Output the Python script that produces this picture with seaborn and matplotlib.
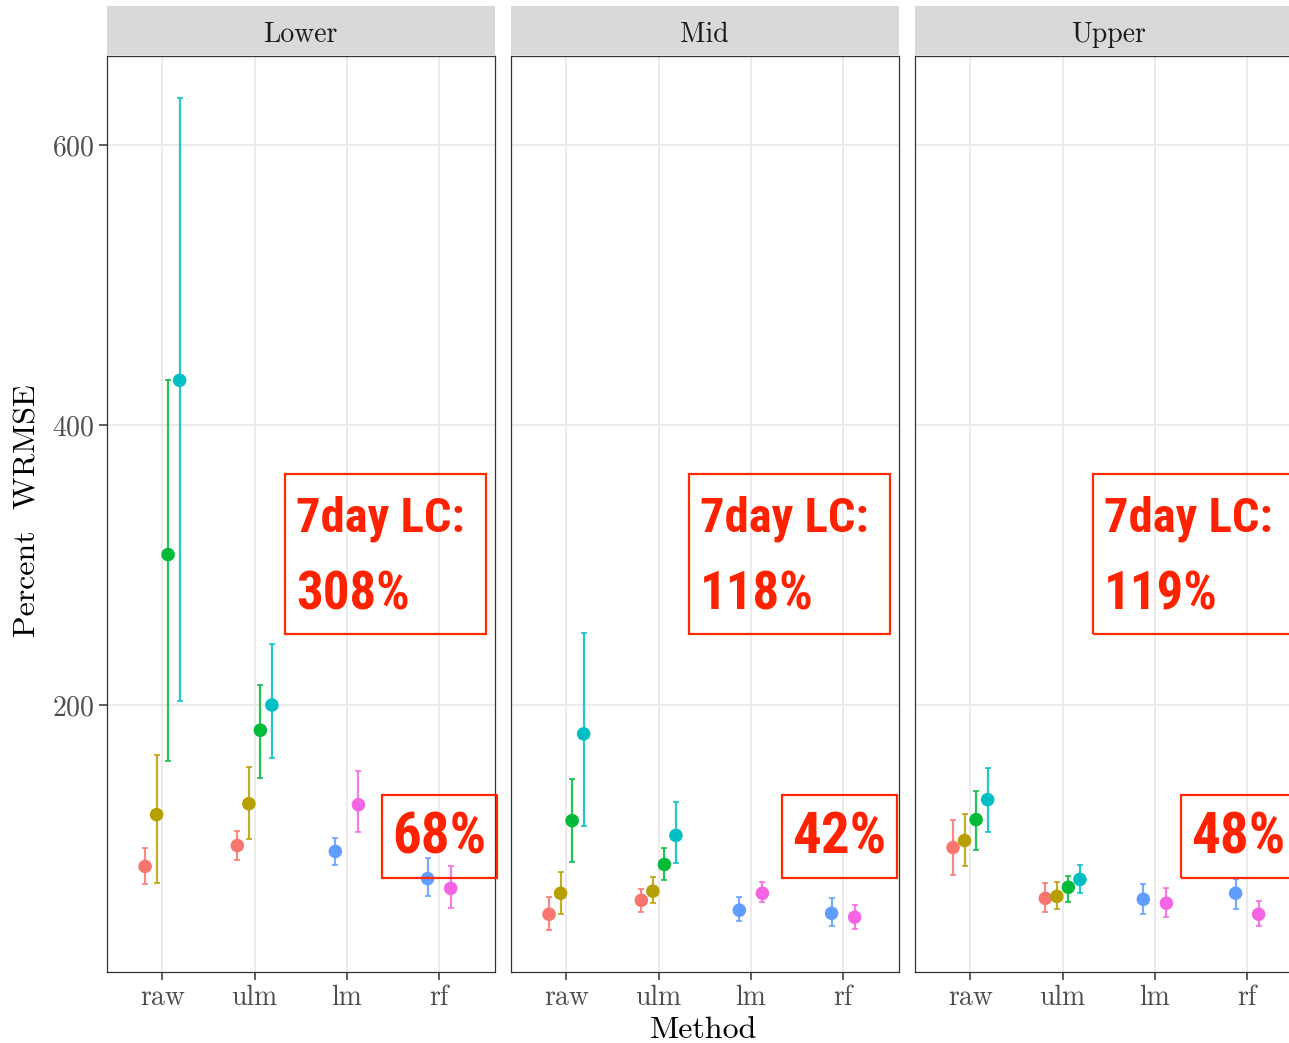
import numpy as np
import pandas as pd
import matplotlib
matplotlib.use("Agg")
import matplotlib.pyplot as plt
import seaborn as sns
from matplotlib.patches import Rectangle
from matplotlib import font_manager as fm

# ---------------- data ----------------
panels = ["Lower", "Mid", "Upper"]
methods = ["raw", "ulm", "lm", "rf"]
groups = ["g1", "g2", "g3", "g4", "g5", "g6"]
palette = ["#F8766D", "#B79F00", "#00BA38", "#00BFC4", "#619CFF", "#F564E3"]

row_method = ["raw"] * 4 + ["ulm"] * 4 + ["lm"] * 2 + ["rf"] * 2
row_group = ["g1", "g2", "g3", "g4", "g1", "g2", "g3", "g4", "g5", "g6", "g5", "g6"]

lower_est = [84.7, 121.7, 307.5, 432.0, 99.6, 129.5, 182.0, 200.0, 95.4, 128.8, 76.0, 69.0]
lower_lo = [71.9, 72.6, 160.0, 203.0, 89.0, 104.0, 148.0, 162.3, 86.0, 109.6, 63.3, 54.8]
lower_hi = [97.5, 164.4, 432.0, 634.0, 110.0, 156.0, 214.0, 243.4, 105.3, 153.0, 90.4, 84.7]

mid_est = [50.5, 65.5, 117.4, 179.4, 60.5, 67.0, 86.1, 106.8, 53.4, 65.5, 51.2, 48.4]
mid_lo = [39.0, 50.5, 87.5, 113.9, 52.0, 58.4, 74.7, 86.8, 45.5, 59.0, 42.0, 39.9]
mid_hi = [62.6, 80.4, 147.3, 251.2, 68.3, 76.9, 98.2, 131.0, 62.6, 73.3, 62.0, 57.0]

upper_est = [98.2, 103.2, 118.1, 132.4, 61.9, 63.3, 69.8, 75.4, 61.2, 58.4, 65.5, 50.5]
upper_lo = [78.3, 84.7, 96.1, 109.6, 52.0, 54.1, 59.0, 65.5, 50.5, 48.4, 54.1, 42.0]
upper_hi = [118.1, 122.4, 138.8, 155.2, 72.6, 73.3, 77.6, 85.4, 71.9, 69.0, 75.4, 59.8]

lc_labels = ["308%", "118%", "119%"]
small_labels = ["68%", "42%", "48%"]

y_ticks = [200, 400, 600]

# ---------------- build table ----------------
frames = []
for p, est, lo, hi in zip(panels,
                          [lower_est, mid_est, upper_est],
                          [lower_lo, mid_lo, upper_lo],
                          [lower_hi, mid_hi, upper_hi]):
    frames.append(pd.DataFrame({"panel": p, "method": row_method, "group": row_group,
                                "est": est, "lo": lo, "hi": hi}))
df = pd.concat(frames, ignore_index=True)

# ggplot-style dodge (width 0.5) among groups present at each x
dodge_w = 0.5
df["xi"] = df["method"].map({m: i for i, m in enumerate(methods)}).astype(float)
df["x"] = df["xi"]
for (p, m), sub in df.groupby(["panel", "method"]):
    n = len(sub)
    for k, idx in enumerate(sub.sort_values("group").index):
        df.loc[idx, "x"] = df.loc[idx, "xi"] + (k - (n - 1) / 2) * dodge_w / n

ymin_d, ymax_d = df["lo"].min(), df["hi"].max()
rng = ymax_d - ymin_d
ylim = (ymin_d - 0.05 * rng, ymax_d + 0.05 * rng)

# ---------------- style ----------------
sns.set_theme(style="white")
plt.rcParams["font.family"] = ["cmr10", "DejaVu Serif"]
plt.rcParams["axes.formatter.use_mathtext"] = True
plt.rcParams["axes.unicode_minus"] = False

avail = {f.name for f in fm.fontManager.ttflist}
ann_family = "DejaVu Sans"
for cand in ["Liberation Sans Narrow", "Roboto Condensed", "Open Sans Condensed", "Liberation Sans"]:
    if cand in avail:
        ann_family = cand
        break

W, H = 1289, 1043
fig = plt.figure(figsize=(W / 100, H / 100), dpi=100)


def fx(px):
    return px / W


def fy(py):
    return 1 - py / H


panel_left = [107, 511, 915]
small_box_off = [275, 271, 266]
panel_w = 387.5
top, bottom, strip_top = 56, 972, 6
red_text = "#FF2200"
red_box = "#FF2A00"

for i, p in enumerate(panels):
    L = panel_left[i]
    ax = fig.add_axes([fx(L), fy(bottom), panel_w / W, (bottom - top) / H])
    sub = df[df["panel"] == p]
    # error bars
    for g, col in zip(groups, palette):
        s = sub[sub["group"] == g]
        if len(s) == 0:
            continue
        ax.errorbar(s["x"], s["est"], yerr=[s["est"] - s["lo"], s["hi"] - s["est"]],
                    fmt="none", ecolor=col, elinewidth=1.6, capsize=2.2, capthick=1.3,
                    alpha=0.85, zorder=2)
    sns.scatterplot(data=sub, x="x", y="est", hue="group", hue_order=groups,
                    palette=palette, s=95, linewidth=0, legend=False, ax=ax, zorder=3)
    ax.set_xlim(-0.6, 3.6)
    ax.set_ylim(*ylim)
    ax.set_xticks(range(len(methods)))
    ax.set_xticklabels(methods)
    ax.set_yticks(y_ticks)
    ax.grid(True, color="#EBEBEB", linewidth=1.4, zorder=0)
    ax.set_axisbelow(True)
    for sp in ax.spines.values():
        sp.set_color("#333333")
        sp.set_linewidth(0.9)
        sp.set_visible(True)
    ax.tick_params(axis="both", which="major", length=6, width=1.1, color="#333333",
                   labelsize=20, labelcolor="#4D4D4D", pad=3, direction="out",
                   bottom=True, left=True)
    ax.set_xlabel("")
    ax.set_ylabel("")
    if i > 0:
        ax.tick_params(axis="y", labelleft=False, length=0)

    # strip
    sax = fig.add_axes([fx(L), fy(top - 1), panel_w / W, (top - 1 - strip_top) / H])
    sax.set_facecolor("#D9D9D9")
    sax.set_xticks([])
    sax.set_yticks([])
    for sp in sax.spines.values():
        sp.set_visible(False)
    fig.text(fx(L + panel_w / 2), fy(42), p, ha="center", va="baseline",
             fontsize=20, color="#1A1A1A")

    # annotations
    fig.add_artist(Rectangle((fx(L + 178), fy(634)), 201 / W, (634 - 474) / H,
                             transform=fig.transFigure, fill=False, edgecolor=red_box,
                             linewidth=1.6, zorder=10))
    fig.text(fx(L + 189), fy(532), "7day LC:", ha="left", va="baseline", fontsize=35,
             fontweight="bold", color=red_text, family=ann_family, zorder=11)
    fig.text(fx(L + 189), fy(610), lc_labels[i], ha="left", va="baseline", fontsize=38,
             fontweight="bold", color=red_text, family=ann_family, zorder=11)
    so = small_box_off[i]
    fig.add_artist(Rectangle((fx(L + so), fy(878)), 115 / W, (878 - 795) / H,
                             transform=fig.transFigure, fill=False, edgecolor=red_box,
                             linewidth=1.6, zorder=10))
    fig.text(fx(L + so + 10), fy(853), small_labels[i], ha="left", va="baseline", fontsize=41,
             fontweight="bold", color=red_text, family=ann_family, zorder=11)

fig.text(fx(704), fy(1038), "Method", ha="center", va="baseline", fontsize=23, color="black")
fig.text(fx(28), fy(511), "Percent  WRMSE", ha="center", va="center", rotation=90,
         fontsize=23, color="black")

fig.savefig("out.png", dpi=100)
